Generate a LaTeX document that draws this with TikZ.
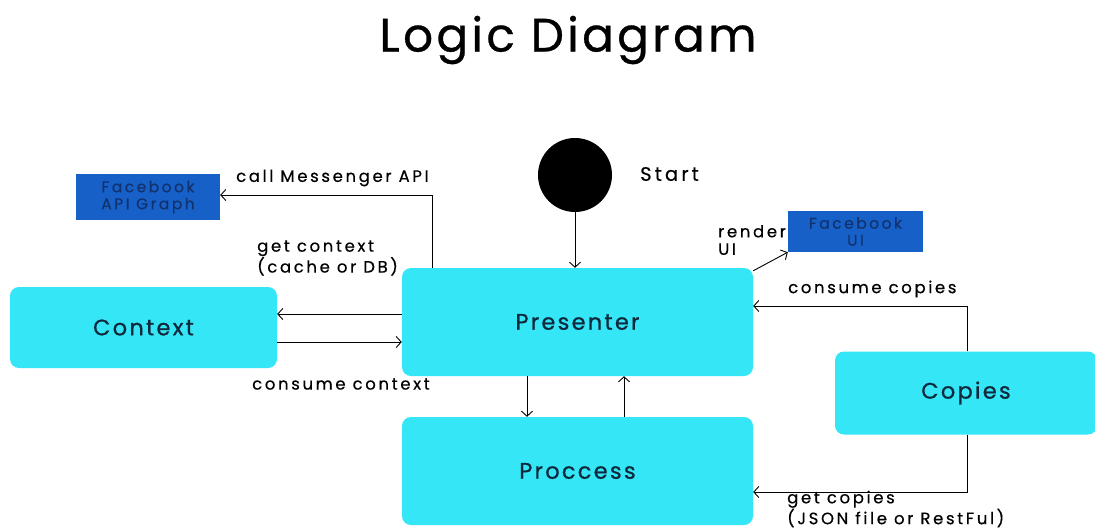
\documentclass[tikz,border=0pt]{standalone}
\usepackage{fontspec}
\setmainfont{Poppins}
\newfontfamily\spaced{Poppins}[LetterSpace=16,FakeBold=0.4]
\newfontfamily\boxfont{Poppins}[LetterSpace=10,FakeBold=0.8]
\newfontfamily\titlefont{Poppins}[LetterSpace=7,FakeBold=0.6]
\usetikzlibrary{arrows.meta}
\definecolor{boxcyan}{RGB}{52,230,246}
\definecolor{fbblue}{RGB}{22,96,200}
\definecolor{fbtext}{RGB}{18,50,110}
\definecolor{boxtext}{RGB}{16,40,60}
\tikzset{
  mainbox/.style={fill=boxcyan, rounded corners=9pt, draw=none, text=boxtext, font=\boxfont\fontsize{22.5}{25}\selectfont},
  fbbox/.style={fill=fbblue, draw=none, text=fbtext, font=\spaced\fontsize{15.5}{17}\selectfont, align=center, inner sep=0pt},
  conn/.style={draw=black, line width=0.9pt, -{Straight Barb[length=5pt,width=11pt]}},
  lbl/.style={font=\spaced\fontsize{16.5}{17.5}\selectfont, align=left, inner sep=0pt},
}
\begin{document}
\begin{tikzpicture}[x=1pt,y=-1pt]
\useasboundingbox (0,0) rectangle (1095,530);
\fill[white] (0,0) rectangle (1095,530);
% title
\node[font=\titlefont\fontsize{47}{50}\selectfont] (title) at (568,40) {Logic Diagram};
% start
\node[circle, fill=black, minimum size=74pt, inner sep=0pt] (start) at (575,175) {};
\node[lbl, font=\spaced\fontsize{19.5}{20}\selectfont, anchor=west] (startlbl) at (640,174) {Start};
% boxes
\node[mainbox, minimum width=351pt, minimum height=108pt] (pres) at (577.5,322) {Presenter};
\node[mainbox, minimum width=267pt, minimum height=81pt] (ctx) at (143.5,327.5) {Context};
\node[mainbox, minimum width=351pt, minimum height=108pt] (proc) at (577.5,471) {Proccess};
\node[mainbox, minimum width=262pt, minimum height=83pt] (cop) at (966,393) {Copies};
\node[fbbox, minimum width=144pt, minimum height=46pt] (fbapi) at (148,197) {Facebook\\API Graph};
\node[fbbox, minimum width=135pt, minimum height=41pt] (fbui) at (855.5,231.5) {Facebook\\UI};
% coordinates
\coordinate (c1) at (432,195);
\coordinate (c2) at (967,306);
\coordinate (c3) at (967,492);
% connectors
\draw[conn] (start.south) -- (start.south |- pres.north);
\draw[conn] (pres.north -| c1) -- (c1) -- (fbapi.east |- c1);
\draw[conn] (pres.west |- 0,314) -- (ctx.east |- 0,314);
\draw[conn] (ctx.east |- 0,342) -- (pres.west |- 0,342);
\draw[conn] ([yshift=-3pt]pres.north east) -- (fbui.south west);
\draw[conn] (cop.north -| c2) -- (c2) -- (pres.east |- c2);
\draw[conn] (cop.south -| c3) -- (c3) -- (proc.east |- c3);
\draw[conn] (pres.south -| 527,0) -- (proc.north -| 527,0);
\draw[conn] (proc.north -| 624,0) -- (pres.south -| 624,0);
% labels
\node[lbl, anchor=west] (l1) at (236,178) {call Messenger API};
\node[lbl, anchor=west] (l2) at (257,258) {get context\\(cache or DB)};
\node[lbl, anchor=west] (l3) at (252,384) {consume context};
\node[lbl, anchor=west] (l4) at (718,240) {render\\UI};
\node[lbl, anchor=west] (l5) at (788,289) {consume copies};
\node[lbl, anchor=west] (l6) at (787,509) {get copies\\(JSON file or RestFul)};
\end{tikzpicture}
\end{document}
